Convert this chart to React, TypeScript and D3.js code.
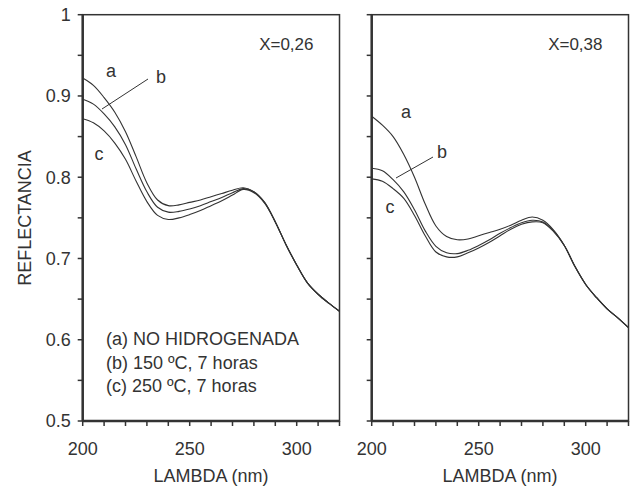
import * as d3 from "d3";

// wavelength grid (nm)
const lambda = [200, 205, 210, 215, 220, 225, 230, 235, 240, 245, 250, 255, 260, 265, 270, 275, 280, 285, 290, 295, 300, 305, 310, 315, 320];

// X=0,26
const leftA = [0.922, 0.913, 0.898, 0.880, 0.856, 0.825, 0.793, 0.772, 0.765, 0.766, 0.769, 0.772, 0.776, 0.780, 0.784, 0.787, 0.782, 0.769, 0.745, 0.717, 0.692, 0.670, 0.656, 0.645, 0.635];
const leftB = [0.896, 0.890, 0.878, 0.862, 0.840, 0.810, 0.782, 0.763, 0.757, 0.758, 0.761, 0.765, 0.770, 0.775, 0.781, 0.786, 0.782, 0.769, 0.745, 0.717, 0.692, 0.670, 0.656, 0.645, 0.635];
const leftC = [0.872, 0.867, 0.857, 0.842, 0.822, 0.795, 0.770, 0.753, 0.748, 0.750, 0.754, 0.759, 0.765, 0.771, 0.778, 0.785, 0.781, 0.768, 0.745, 0.717, 0.692, 0.670, 0.656, 0.645, 0.635];

// X=0,38
const rightA = [0.875, 0.864, 0.850, 0.828, 0.800, 0.767, 0.740, 0.727, 0.723, 0.724, 0.728, 0.732, 0.736, 0.741, 0.747, 0.751, 0.747, 0.735, 0.716, 0.690, 0.668, 0.652, 0.638, 0.627, 0.615];
const rightB = [0.811, 0.808, 0.797, 0.782, 0.760, 0.734, 0.715, 0.707, 0.706, 0.710, 0.716, 0.723, 0.731, 0.738, 0.744, 0.747, 0.745, 0.734, 0.716, 0.690, 0.668, 0.652, 0.638, 0.627, 0.615];
const rightC = [0.798, 0.795, 0.786, 0.774, 0.753, 0.728, 0.708, 0.702, 0.702, 0.707, 0.713, 0.720, 0.728, 0.736, 0.742, 0.745, 0.744, 0.733, 0.716, 0.690, 0.668, 0.652, 0.638, 0.627, 0.615];

const xLabels = [200, 250, 300];
const yLabels = [0.5, 0.6, 0.7, 0.8, 0.9, 1];
const legend = ["(a) NO HIDROGENADA", "(b) 150 ºC, 7 horas", "(c) 250 ºC, 7 horas"];

const W = 631;
const H = 488;
const top = 14.7;
const bottom = 421;
const ink = "#333";
const font = "'Liberation Sans', Arial, sans-serif";
const fs = 18;

const y = d3.scaleLinear().domain([0.5, 1]).range([bottom, top]);

type Lbl = { t: string; x: number; y: number };

const Panel = ({ left, right, series, title, showY, letters, leader }: {
  left: number; right: number; series: number[][]; title: string; showY: boolean;
  letters: Lbl[]; leader: [number, number, number, number];
}) => {
  const x = d3.scaleLinear().domain([200, 320]).range([left, right]);
  const line = d3.line<number>()
    .x((_, i) => x(lambda[i]))
    .y((d) => y(d))
    .curve(d3.curveCatmullRom);
  const xt = d3.range(200, 321, 10);
  const yt = d3.range(0, 11).map((i) => 0.5 + i * 0.05);
  return (
    <g fontFamily={font} fill={ink}>
      <rect x={left} y={top} width={right - left} height={bottom - top} fill="none" stroke={ink} strokeWidth={1.5} />
      <line x1={left} x2={left} y1={top} y2={bottom} stroke={ink} strokeWidth={2.5} />
      <line x1={left} x2={right} y1={bottom} y2={bottom} stroke={ink} strokeWidth={2.5} />
      {xt.map((t) => (
        <line key={"x" + t} x1={x(t)} x2={x(t)} y1={bottom} y2={bottom + 5} stroke={ink} strokeWidth={1.5} />
      ))}
      {yt.map((t) => (
        <line key={"y" + t} x1={left - 5} x2={left} y1={y(t)} y2={y(t)} stroke={ink} strokeWidth={1.5} />
      ))}
      {xLabels.map((t) => (
        <text key={"xl" + t} x={x(t)} y={454.5} textAnchor="middle" fontSize={fs}>{t}</text>
      ))}
      {showY && yLabels.map((t) => (
        <text key={"yl" + t} x={left - 12} y={y(t)} dy="0.35em" textAnchor="end" fontSize={fs}>
          {t === 1 ? "1" : t.toFixed(1)}
        </text>
      ))}
      <text x={(left + right) / 2} y={482} textAnchor="middle" fontSize={fs}>LAMBDA (nm)</text>
      <text x={right - 26} y={50} textAnchor="end" fontSize={17}>{title}</text>
      {series.map((s, i) => (
        <path key={i} d={line(s) ?? ""} fill="none" stroke={ink} strokeWidth={1.1} />
      ))}
      <line x1={leader[0]} y1={leader[1]} x2={leader[2]} y2={leader[3]} stroke={ink} strokeWidth={1} />
      {letters.map((l) => (
        <text key={l.t} x={l.x} y={l.y} dy="0.35em" textAnchor="middle" fontSize={fs}>{l.t}</text>
      ))}
    </g>
  );
};

export default function App() {
  return (
    <svg width={W} height={H} style={{ position: "absolute", left: 0, top: 0, background: "#fff" }}>
      <rect width={W} height={H} fill="#fff" />
      <Panel
        left={82.7} right={339.5} series={[leftA, leftB, leftC]} title="X=0,26" showY
        letters={[{ t: "a", x: 111, y: 71 }, { t: "b", x: 161, y: 77 }, { t: "c", x: 99, y: 154 }]}
        leader={[148, 79, 102, 109]}
      />
      <Panel
        left={371.7} right={628.5} series={[rightA, rightB, rightC]} title="X=0,38" showY={false}
        letters={[{ t: "a", x: 406, y: 112 }, { t: "b", x: 442, y: 152 }, { t: "c", x: 390, y: 207 }]}
        leader={[433, 157, 396, 178]}
      />
      <text transform="translate(31,218) rotate(-90)" textAnchor="middle" fontSize={fs} fontFamily={font} fill={ink}>
        REFLECTANCIA
      </text>
      <g fontFamily={font} fill={ink} fontSize={18}>
        {legend.map((t, i) => (
          <text key={t} x={106} y={345 + i * 23.5}>{t}</text>
        ))}
      </g>
    </svg>
  );
}
